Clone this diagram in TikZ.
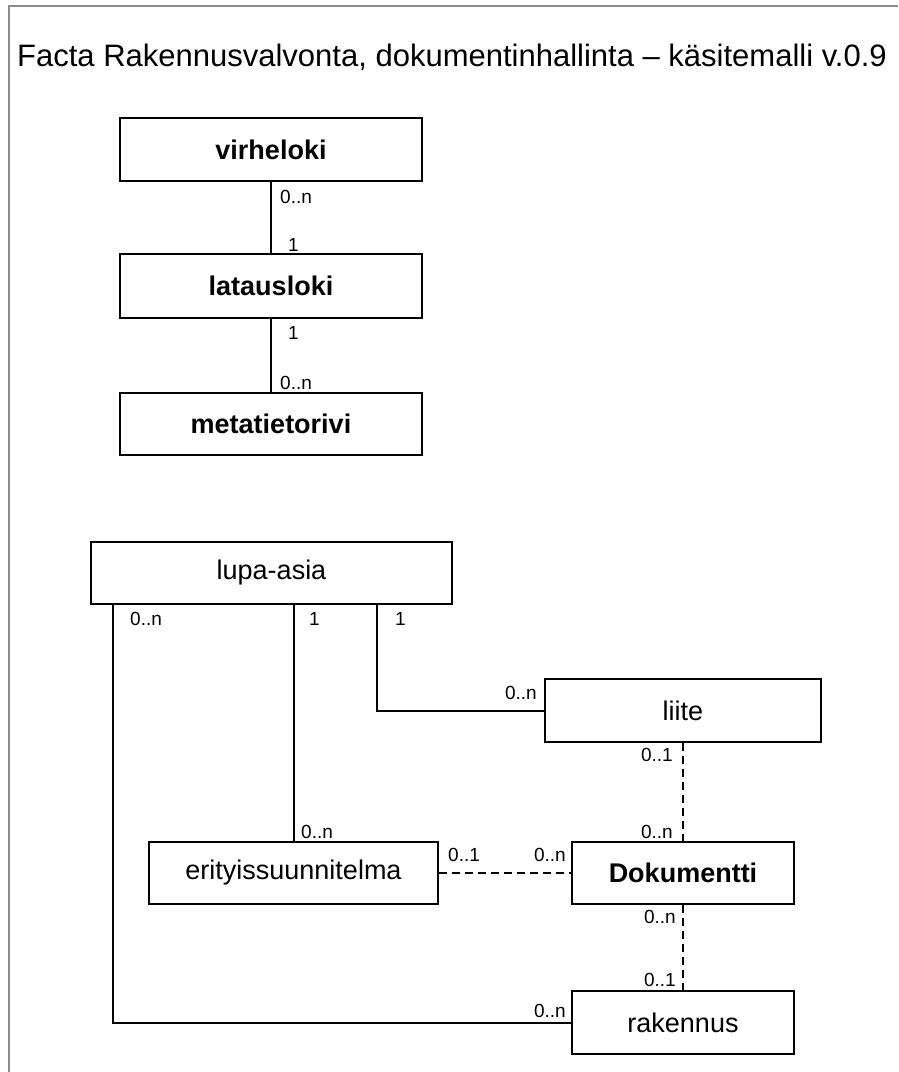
\documentclass[tikz,border=0pt]{standalone}
\usepackage{fontspec}
\setmainfont{Liberation Sans}
\begin{document}
\begin{tikzpicture}[x=1pt,y=-1pt,
  entity/.style={draw=black, line width=2.4pt, fill=white, inner sep=0pt,
    font=\fontsize{27}{32}\selectfont},
  bentity/.style={entity, font=\fontsize{27}{32}\selectfont\bfseries},
  link/.style={line width=2pt, black},
  weak/.style={link, dash pattern=on 8pt off 5pt},
  mult/.style={inner sep=0pt, font=\fontsize{19}{23}\selectfont},
  frameline/.style={line width=2.2pt, color=black!45}]
\useasboundingbox (0,0) rectangle (898,1072);

% outer frame (top and left edges)
\draw[frameline] (9,1072) -- (9,6) -- (898,6);

% title
\node[anchor=base west, inner sep=0pt, font=\fontsize{31}{36}\selectfont]
  (title) at (17,66) {Facta Rakennusvalvonta, dokumentinhallinta -- käsitemalli v.0.9};

% upper chain of logs
\node[bentity, minimum width=302pt, minimum height=63pt] (virhe) at (271,149.5) {virheloki};
\node[bentity, minimum width=302pt, minimum height=64pt] (lataus) at (271,286) {latausloki};
\node[bentity, minimum width=302pt, minimum height=62pt] (meta) at (271,424) {metatietorivi};

\draw[link] (virhe.south) -- (lataus.north);
\draw[link] (lataus.south) -- (meta.north);

\node[mult, anchor=west] (m1) at (280,197) {0..n};
\node[mult, anchor=west] (m2) at (288,245) {1};
\node[mult, anchor=west] (m3) at (288,333) {1};
\node[mult, anchor=west] (m4) at (280,383) {0..n};

% lower model
\node[entity, minimum width=361pt, minimum height=62pt] (lupa) at (271.5,573) {lupa-asia};
\node[entity, minimum width=276pt, minimum height=63pt] (liite) at (683,710.5) {liite};
\node[entity, minimum width=289pt, minimum height=62pt] (erit) at (293.5,873) {erityissuunnitelma};
\node[bentity, minimum width=222pt, minimum height=62pt] (doku) at (683,873) {Dokumentti};
\node[entity, minimum width=222pt, minimum height=63pt] (rak) at (683,1022.5) {rakennus};

\draw[link] ([xshift=23pt]lupa.south west) |- (rak.west);
\draw[link] (lupa.south -| erit.north) -- (erit.north);
\draw[link] ([xshift=287pt]lupa.south west) |- (liite.west);
\draw[weak] (liite.south) -- (doku.north);
\draw[weak] (erit.east) -- (doku.west);
\draw[weak] (doku.south) -- (rak.north);

\node[mult, anchor=west] (l1) at (130,619) {0..n};
\node[mult, anchor=west] (l2) at (309,619) {1};
\node[mult, anchor=west] (l3) at (395,619) {1};
\node[mult, anchor=east] (l4) at (537,693) {0..n};
\node[mult, anchor=east] (l5) at (673,755) {0..1};
\node[mult, anchor=east] (l6) at (673,832) {0..n};
\node[mult, anchor=west] (l7) at (301,832) {0..n};
\node[mult, anchor=west] (l8) at (448,855) {0..1};
\node[mult, anchor=east] (l9) at (566,855) {0..n};
\node[mult, anchor=east] (l10) at (676,917) {0..n};
\node[mult, anchor=east] (l11) at (676,980) {0..1};
\node[mult, anchor=east] (l12) at (566,1011) {0..n};
\end{tikzpicture}
\end{document}
